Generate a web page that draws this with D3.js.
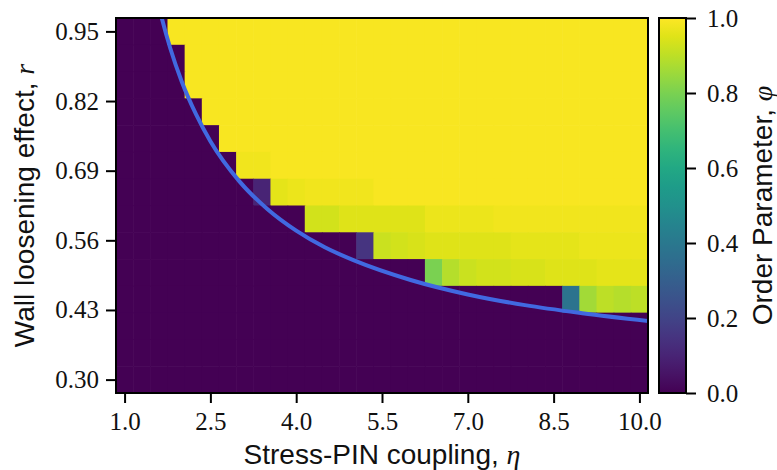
<!DOCTYPE html>
<html>
<head>
  <meta charset="utf-8">
  <title>Order parameter phase diagram</title>
  <script src="https://cdn.jsdelivr.net/npm/d3@7"></script>
  <style>
    body { margin:0; background:white; }
  </style>
</head>
<body>
<div id="chart"></div>
<script>
// stress-PIN coupling (columns) and wall loosening (rows, top to bottom)
var etaValues = [1.0,1.3,1.6,1.9,2.2,2.5,2.8,3.1,3.4,3.7,4.0,4.3,4.6,4.9,5.2,5.5,5.8,6.1,6.4,6.7,7.0,7.3,7.6,7.9,8.2,8.5,8.8,9.1,9.4,9.7,10.0];
var rValues = [0.95,0.90,0.85,0.80,0.75,0.70,0.65,0.60,0.55,0.50,0.45,0.40,0.35,0.30];

// order parameter, one row per r value
var phi = [
  [0,0,0,.99,.99,.99,.99,.99,.99,.99,.99,.99,.99,.99,.99,.99,.99,.99,.99,.99,.99,.99,.99,.99,.99,.99,.99,.99,.99,.99,.99],
  [0,0,0,0,.99,.99,.99,.99,.99,.99,.99,.99,.99,.99,.99,.99,.99,.99,.99,.99,.99,.99,.99,.99,.99,.99,.99,.99,.99,.99,.99],
  [0,0,0,0,.99,.99,.99,.99,.99,.99,.99,.99,.99,.99,.99,.99,.99,.99,.99,.99,.99,.99,.99,.99,.99,.99,.99,.99,.99,.99,.99],
  [0,0,0,0,0,.99,.99,.99,.99,.99,.99,.99,.99,.99,.99,.99,.99,.99,.99,.99,.99,.99,.99,.99,.99,.99,.99,.99,.99,.99,.99],
  [0,0,0,0,0,0,.99,.99,.99,.99,.99,.99,.99,.99,.99,.99,.99,.99,.99,.99,.99,.99,.99,.99,.99,.99,.99,.99,.99,.99,.99],
  [0,0,0,0,0,0,0,.98,.98,.99,.99,.99,.99,.99,.99,.99,.99,.99,.99,.99,.99,.99,.99,.99,.99,.99,.99,.99,.99,.99,.99],
  [0,0,0,0,0,0,0,0,.10,.96,.97,.98,.98,.98,.98,.99,.99,.99,.99,.99,.99,.99,.99,.99,.99,.99,.99,.99,.99,.99,.99],
  [0,0,0,0,0,0,0,0,0,0,0,.93,.93,.95,.95,.95,.95,.95,.97,.97,.97,.97,.98,.98,.98,.98,.98,.98,.98,.98,.98],
  [0,0,0,0,0,0,0,0,0,0,0,0,0,0,.15,.92,.93,.94,.95,.95,.95,.95,.95,.96,.96,.96,.96,.97,.97,.97,.97],
  [0,0,0,0,0,0,0,0,0,0,0,0,0,0,0,0,0,0,.80,.89,.92,.93,.93,.94,.94,.95,.95,.95,.96,.96,.96],
  [0,0,0,0,0,0,0,0,0,0,0,0,0,0,0,0,0,0,0,0,0,0,0,0,0,0,.38,.86,.90,.89,.90],
  [0,0,0,0,0,0,0,0,0,0,0,0,0,0,0,0,0,0,0,0,0,0,0,0,0,0,0,0,0,0,0],
  [0,0,0,0,0,0,0,0,0,0,0,0,0,0,0,0,0,0,0,0,0,0,0,0,0,0,0,0,0,0,0],
  [0,0,0,0,0,0,0,0,0,0,0,0,0,0,0,0,0,0,0,0,0,0,0,0,0,0,0,0,0,0,0]
];

// critical line
var curveEta = [1.6,1.65,1.8,2.0,2.25,2.5,3.0,3.5,4.0,4.5,5.0,6.0,7.0,8.0,9.0,10.2];
var curveR = [0.996,0.975,0.918,0.856,0.795,0.745,0.671,0.618,0.578,0.547,0.523,0.486,0.459,0.439,0.424,0.409];

var xTicks = [1.0,2.5,4.0,5.5,7.0,8.5,10.0];
var yTicks = [0.30,0.43,0.56,0.69,0.82,0.95];
var cbTicks = [0.0,0.2,0.4,0.6,0.8,1.0];

var pLeft = 116, pRight = 648, pTop = 18, pBottom = 393;
var serif = "'Liberation Serif', 'Times New Roman', serif";
var sans = "'Liberation Sans', Arial, sans-serif";
var tickFont = 25, labelFont = 28;

var svg = d3.select('#chart').append('svg')
  .attr('width', 777)
  .attr('height', 470);

var x = d3.scaleLinear().domain([0.85, 10.15]).range([pLeft, pRight]);
var y = d3.scaleLinear().domain([0.275, 0.975]).range([pBottom, pTop]);
var color = d3.scaleSequential(d3.interpolateViridis).domain([0, 1]);

svg.append('clipPath').attr('id', 'plotclip')
  .append('rect').attr('x', pLeft).attr('y', pTop).attr('width', pRight - pLeft).attr('height', pBottom - pTop);

var cells = [];
rValues.forEach(function(r, i) {
  etaValues.forEach(function(e, j) {
    cells.push({eta: e, r: r, v: phi[i][j]});
  });
});

var plot = svg.append('g').attr('clip-path', 'url(#plotclip)');

plot.selectAll('rect.cell')
    .data(cells)
  .enter().append('rect')
    .attr('class', 'cell')
    .attr('x', function(d) { return x(d.eta - 0.15); })
    .attr('width', function(d) { return x(d.eta + 0.15) - x(d.eta - 0.15) + 0.6; })
    .attr('y', function(d) { return y(d.r + 0.025); })
    .attr('height', function(d) { return y(d.r - 0.025) - y(d.r + 0.025) + 0.6; })
    .attr('fill', function(d) { return color(d.v); });

var line = d3.line()
  .x(function(d, i) { return x(curveEta[i]); })
  .y(function(d, i) { return y(curveR[i]); })
  .curve(d3.curveMonotoneX);

plot.append('path')
  .attr('d', line(curveEta))
  .attr('fill', 'none')
  .attr('stroke', '#4169e1')
  .attr('stroke-width', 4);

// frame
svg.append('rect')
  .attr('x', pLeft).attr('y', pTop)
  .attr('width', pRight - pLeft).attr('height', pBottom - pTop)
  .attr('fill', 'none').attr('stroke', '#000').attr('stroke-width', 2);

var xAxis = svg.append('g')
  .attr('transform', 'translate(0,' + pBottom + ')')
  .call(d3.axisBottom(x).tickValues(xTicks).tickFormat(d3.format('.1f')).tickSize(10).tickPadding(9).tickSizeOuter(0))
  .attr('font-family', serif).attr('font-size', tickFont);
xAxis.select('.domain').remove();
xAxis.selectAll('line').attr('stroke', '#000').attr('stroke-width', 2);
xAxis.selectAll('text').attr('fill', '#111');

var yAxis = svg.append('g')
  .attr('transform', 'translate(' + pLeft + ',0)')
  .call(d3.axisLeft(y).tickValues(yTicks).tickFormat(d3.format('.2f')).tickSize(10).tickPadding(7).tickSizeOuter(0))
  .attr('font-family', serif).attr('font-size', tickFont);
yAxis.select('.domain').remove();
yAxis.selectAll('line').attr('stroke', '#000').attr('stroke-width', 2);
yAxis.selectAll('text').attr('fill', '#111');

// colorbar
var cbLeft = 659, cbRight = 686;
var cy = d3.scaleLinear().domain([0, 1]).range([pBottom, pTop]);
var grad = svg.append('defs').append('linearGradient')
  .attr('id', 'viridis').attr('x1', 0).attr('y1', 1).attr('x2', 0).attr('y2', 0);
d3.range(0, 1.0001, 0.05).forEach(function(t) {
  grad.append('stop').attr('offset', t).attr('stop-color', color(t));
});
svg.append('rect')
  .attr('x', cbLeft).attr('y', pTop)
  .attr('width', cbRight - cbLeft).attr('height', pBottom - pTop)
  .attr('fill', 'url(#viridis)').attr('stroke', '#000').attr('stroke-width', 2);

var cbAxis = svg.append('g')
  .attr('transform', 'translate(' + cbRight + ',0)')
  .call(d3.axisRight(cy).tickValues(cbTicks).tickFormat(d3.format('.1f')).tickSize(10).tickPadding(11).tickSizeOuter(0))
  .attr('font-family', serif).attr('font-size', tickFont);
cbAxis.select('.domain').remove();
cbAxis.selectAll('line').attr('stroke', '#000').attr('stroke-width', 2);
cbAxis.selectAll('text').attr('fill', '#111');

// axis labels
var xl = svg.append('text')
  .attr('x', (pLeft + pRight) / 2).attr('y', 464)
  .attr('text-anchor', 'middle')
  .attr('font-family', sans).attr('font-size', labelFont).attr('fill', '#111');
xl.append('tspan').text('Stress-PIN coupling, ');
xl.append('tspan').attr('font-family', serif).attr('font-style', 'italic').text('η');

var yl = svg.append('text')
  .attr('transform', 'translate(34,' + (pTop + pBottom) / 2 + ') rotate(-90)')
  .attr('text-anchor', 'middle')
  .attr('font-family', sans).attr('font-size', labelFont).attr('fill', '#111');
yl.append('tspan').text('Wall loosening effect, ');
yl.append('tspan').attr('font-family', serif).attr('font-style', 'italic').text('r');

var cl = svg.append('text')
  .attr('transform', 'translate(772,' + (pTop + pBottom) / 2 + ') rotate(-90)')
  .attr('text-anchor', 'middle')
  .attr('font-family', sans).attr('font-size', labelFont).attr('fill', '#111');
cl.append('tspan').text('Order Parameter, ');
cl.append('tspan').attr('font-family', serif).attr('font-style', 'italic').text('φ');
</script>
</body>
</html>
